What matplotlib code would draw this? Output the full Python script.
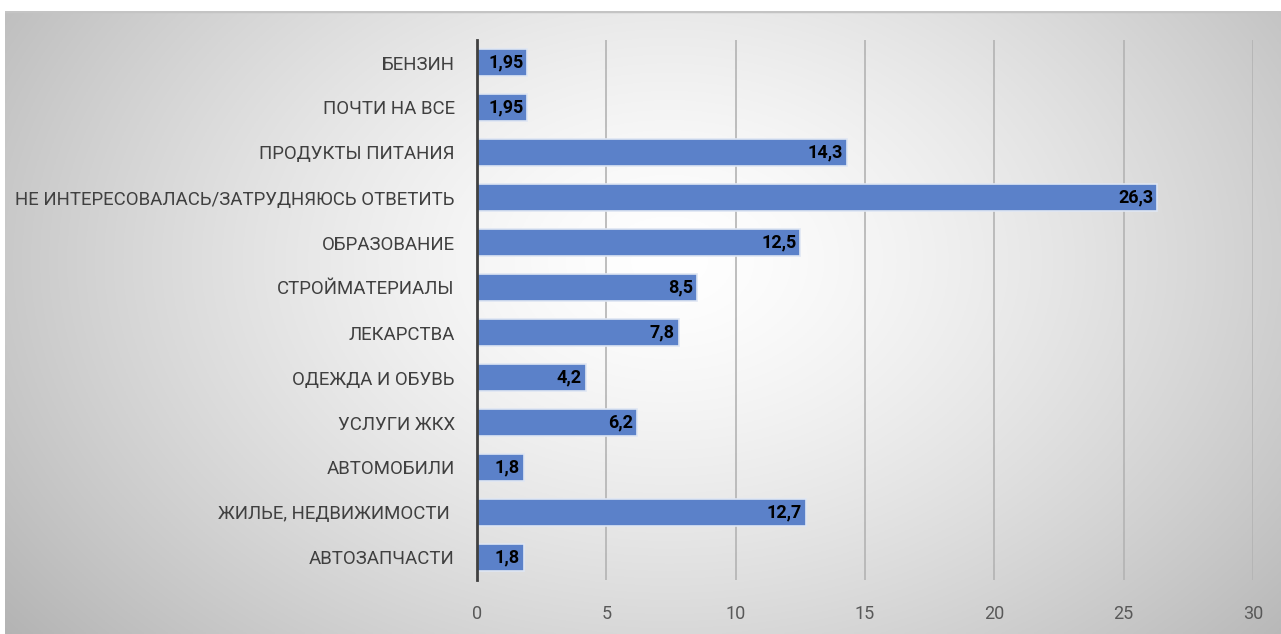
# horizontal bar chart, gradient background
import matplotlib
matplotlib.use("Agg")
import matplotlib.pyplot as plt
import numpy as np

categories = ["БЕНЗИН",
              "ПОЧТИ НА ВСЕ",
              "ПРОДУКТЫ ПИТАНИЯ",
              "НЕ ИНТЕРЕСОВАЛАСЬ/ЗАТРУДНЯЮСЬ ОТВЕТИТЬ",
              "ОБРАЗОВАНИЕ",
              "СТРОЙМАТЕРИАЛЫ",
              "ЛЕКАРСТВА",
              "ОДЕЖДА И ОБУВЬ",
              "УСЛУГИ ЖКХ",
              "АВТОМОБИЛИ",
              "ЖИЛЬЕ, НЕДВИЖИМОСТИ ",
              "АВТОЗАПЧАСТИ"]
values = [1.95, 1.95, 14.3, 26.3, 12.5, 8.5, 7.8, 4.2, 6.2, 1.8, 12.7, 1.8]
value_labels = ["1,95", "1,95", "14,3", "26,3", "12,5", "8,5", "7,8", "4,2", "6,2", "1,8", "12,7", "1,8"]
xticks = [0, 5, 10, 15, 20, 25, 30]

plt.rcParams['font.family'] = ['Roboto', 'DejaVu Sans']

fig = plt.figure(figsize=(12.81, 6.34), dpi=100, facecolor='white')

# radial gradient panel
bg = fig.add_axes([5/1281, 0, 1 - 5/1281, (634 - 11)/634])
h, w = 300, 600
yy, xx = np.mgrid[0:h, 0:w]
cx, cy = 0.52 * w, 0.40 * h
r = np.sqrt(((xx - cx) / (0.62 * w))**2 + ((yy - cy) / (0.9 * h))**2)
g = np.clip(1.0 - 0.27 * r**1.4, 0.7, 1.0)
bg.imshow(np.dstack([g, g, g]), aspect='auto', extent=[0, 1, 0, 1], origin='upper')
bg.axhline(1, color='#c4c4c4', lw=2.5)
bg.set_axis_off()

ax = fig.add_axes([477/1281, 54/634, (1253 - 477)/1281, (594 - 54)/634])
ax.patch.set_alpha(0)
y = np.arange(len(categories))
ax.barh(y, values, height=0.62, color='#5b81c9', edgecolor='#dfe6f3', linewidth=1.2, zorder=3)
for yi, v, lab in zip(y, values, value_labels):
    ax.text(v - 0.15, yi, lab, ha='right', va='center', fontsize=13,
            fontweight='bold', color='black', zorder=4)

ax.set_xlim(0, 30)
ax.set_ylim(11.5, -0.5)
ax.set_xticks(xticks)
ax.set_xticklabels([str(t) for t in xticks], fontsize=13, color='#595959')
ax.set_yticks(y)
ax.set_yticklabels(categories, fontsize=13.4, color='#404040')
ax.tick_params(axis='both', length=0)
ax.tick_params(axis='x', pad=18)
ax.tick_params(axis='y', pad=16)
ax.grid(axis='x', color='#b3b3b3', lw=1.2, zorder=0)
for s in ['top', 'right', 'bottom']:
    ax.spines[s].set_visible(False)
ax.spines['left'].set_color('#404040')
ax.spines['left'].set_linewidth(2)
ax.spines['left'].set_zorder(5)

fig.savefig("out.png", dpi=100, facecolor='white')
